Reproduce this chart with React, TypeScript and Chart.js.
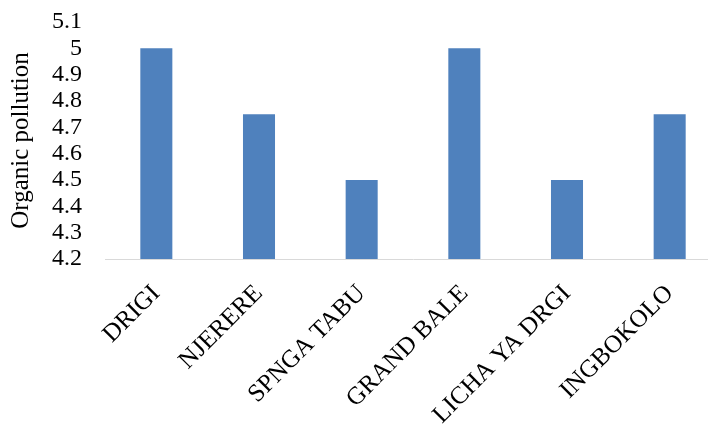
import React, { useEffect, useRef } from "react";
import { Chart, registerables } from "chart.js";

Chart.register(...registerables);

// Sampling sites along the x axis
const sites: string[] = [
  "DRIGI",
  "NJERERE",
  "SPNGA TABU",
  "GRAND BALE",
  "LICHA YA DRGI",
  "INGBOKOLO",
];

// Organic pollution score per site
const organicPollution: number[] = [5, 4.75, 4.5, 5, 4.5, 4.75];

// Value axis range and step
const yMin = 4.2;
const yMax = 5.1;
const yStep = 0.1;

const yTitle = "Organic pollution";

const FONT = "'Liberation Serif', 'Times New Roman', serif";

export default function App() {
  const canvasRef = useRef<HTMLCanvasElement | null>(null);

  useEffect(() => {
    const canvas = canvasRef.current;
    if (!canvas) return;
    const chart = new Chart(canvas, {
      type: "bar",
      data: {
        labels: sites,
        datasets: [
          {
            label: yTitle,
            data: organicPollution,
            backgroundColor: "#4f81bd",
            borderWidth: 0,
            categoryPercentage: 1,
            barPercentage: 0.312,
          },
        ],
      },
      options: {
        responsive: false,
        animation: false,
        devicePixelRatio: 1,
        layout: { padding: { top: 22, right: 0, bottom: 0, left: 0 } },
        plugins: {
          legend: { display: false },
          tooltip: { enabled: false },
        },
        scales: {
          x: {
            grid: { display: false, drawTicks: false },
            border: { display: true, color: "#d9d9d9", width: 1 },
            ticks: {
              color: "#000",
              font: { family: FONT, size: 25 },
              minRotation: 45,
              maxRotation: 45,
              autoSkip: false,
              padding: 20,
            },
            afterFit: (scale: any) => {
              scale.height = 424 - 259;
            },
          },
          y: {
            min: yMin,
            max: yMax,
            grid: { display: false, drawTicks: false },
            border: { display: false },
            ticks: {
              stepSize: yStep,
              autoSkip: false,
              color: "#000",
              font: { family: FONT, size: 24 },
              padding: 23,
              callback: (v: any) => String(Math.round(Number(v) * 10) / 10),
            },
            title: {
              display: true,
              text: yTitle,
              color: "#000",
              font: { family: FONT, size: 25, weight: "normal" },
              padding: { top: 6, bottom: 0 },
            },
            afterFit: (scale: any) => {
              // fixed axis width; label padding should not shrink the plot vertically
              scale.width = 105;
              scale.paddingTop = 0;
              scale.paddingBottom = 0;
            },
          },
        },
      },
    });
    return () => chart.destroy();
  }, []);

  return (
    <div
      style={{
        position: "absolute",
        left: 0,
        top: 0,
        width: 708,
        height: 424,
        overflow: "hidden",
        background: "#fff",
      }}
    >
      <canvas
        ref={canvasRef}
        width={721}
        height={424}
        style={{ display: "block" }}
      />
    </div>
  );
}
